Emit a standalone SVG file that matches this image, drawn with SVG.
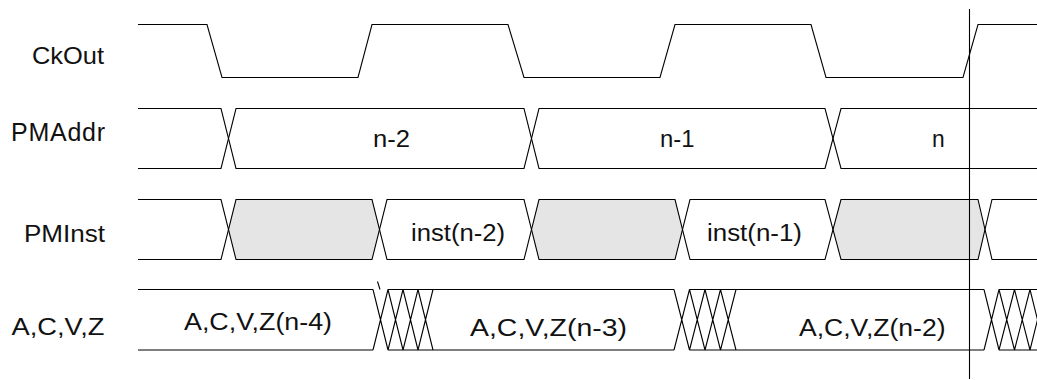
<svg xmlns="http://www.w3.org/2000/svg" width="1037" height="380" viewBox="0 0 1037 380">
<style>
.w{fill:none;stroke:#000;stroke-width:1.1}
.g{fill:#e5e5e5;stroke:none}
.lab{font-family:"Liberation Sans",Arial,sans-serif;font-size:24px;fill:#111}
.in{font-family:"Liberation Sans",Arial,sans-serif;font-size:23px;fill:#111}
</style>
<rect width="1037" height="380" fill="#fff"/>
<g id="ckout">
<text class="lab" x="32" y="64" textLength="72" lengthAdjust="spacingAndGlyphs">CkOut</text>
<path class="w" d="M138,24.5 H207 L222,77.5 H358 L372,24.5 H508 L524,77.5 H660 L675,24.5 H811 L826,77.5 H963 L978,24.5 H1037"/>
</g>
<g id="pmaddr">
<text class="lab" x="11" y="141" style="font-size:25px" textLength="94" lengthAdjust="spacing">PMAddr</text>
<path class="w" d="M138,108.5 H221 L236,168.5 H524 L539,108.5 H825 L841,168.5 H1037"/>
<path class="w" d="M138,168.5 H221 L236,108.5 H524 L539,168.5 H825 L841,108.5 H1037"/>
<text class="in" x="373" y="147" textLength="37" lengthAdjust="spacingAndGlyphs">n-2</text>
<text class="in" x="660" y="147" textLength="34.5" lengthAdjust="spacingAndGlyphs">n-1</text>
<text class="in" x="932" y="147" textLength="12.7" lengthAdjust="spacingAndGlyphs">n</text>
</g>
<g id="pminst">
<text class="lab" x="24" y="242" textLength="81" lengthAdjust="spacingAndGlyphs">PMInst</text>
<polygon class="g" points="228.5,229.5 236,199.5 372,199.5 379.5,229.5 372,259.5 236,259.5"/>
<polygon class="g" points="531.5,229.5 539,199.5 675,199.5 682.5,229.5 675,259.5 539,259.5"/>
<polygon class="g" points="833,229.5 841,199.5 978,199.5 985,229.5 978,259.5 841,259.5"/>
<path class="w" d="M138,199.5 H221 L236,259.5 H372 L387,199.5 H524 L539,259.5 H675 L690,199.5 H825 L841,259.5 H978 L992,199.5 H1037"/>
<path class="w" d="M138,259.5 H221 L236,199.5 H372 L387,259.5 H524 L539,199.5 H675 L690,259.5 H825 L841,199.5 H978 L992,259.5 H1037"/>
<text class="in" x="411" y="241" textLength="94" lengthAdjust="spacingAndGlyphs">inst(n-2)</text>
<text class="in" x="707" y="241" textLength="95" lengthAdjust="spacingAndGlyphs">inst(n-1)</text>
</g>
<g id="acvz">
<text class="lab" x="11.5" y="335" textLength="93" lengthAdjust="spacingAndGlyphs">A,C,V,Z</text>
<path class="w" d="M138,289.5 H373 M388,289.5 H674 M689.5,289.5 H984 M999,289.5 H1037 M138,350 H373 M388,350 H674 M689.5,350 H984 M999,350 H1037"/>
<path class="w" d="M377.5,281.5 L380,289.5"/>
<path class="w" d="M373,289.5 L388,350 M373,350 L388,289.5 M388,289.5 L403,350 M388,350 L403,289.5 M403,289.5 L418,350 M403,350 L418,289.5 M418,289.5 L433,350 M418,350 L433,289.5"/>
<path class="w" d="M674,289.5 L689.5,350 M674,350 L689.5,289.5 M689.5,289.5 L705,350 M689.5,350 L705,289.5 M705,289.5 L720.5,350 M705,350 L720.5,289.5 M720.5,289.5 L736,350 M720.5,350 L736,289.5"/>
<path class="w" d="M984,289.5 L999,350 M984,350 L999,289.5 M999,289.5 L1014.5,350 M999,350 L1014.5,289.5 M1014.5,289.5 L1030,350 M1014.5,350 L1030,289.5 M1030,289.5 L1045,350 M1030,350 L1045,289.5"/>
<text class="in" x="184" y="330" textLength="148" lengthAdjust="spacingAndGlyphs">A,C,V,Z(n-4)</text>
<text class="in" x="470" y="336" textLength="157" lengthAdjust="spacingAndGlyphs">A,C,V,Z(n-3)</text>
<text class="in" x="799" y="336" textLength="146.5" lengthAdjust="spacingAndGlyphs">A,C,V,Z(n-2)</text>
</g>
<g id="connectors">
<path class="w" d="M969.5,9 V379"/>
</g>
</svg>
